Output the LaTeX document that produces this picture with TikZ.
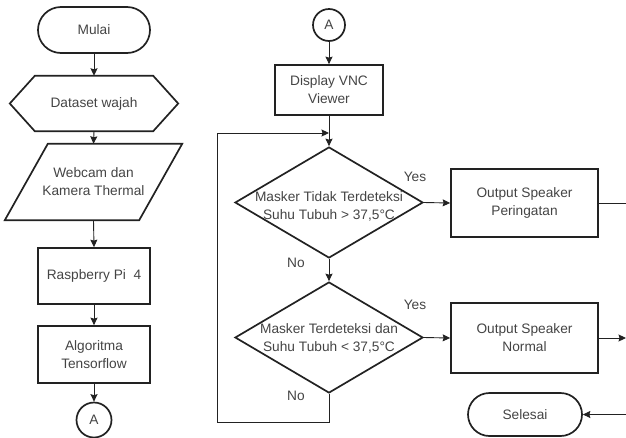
\documentclass[tikz,border=0pt]{standalone}
\usepackage{fontspec}
\setmainfont{Liberation Sans}
\usetikzlibrary{arrows.meta,shapes.geometric,shapes.misc,calc}
\definecolor{txtc}{HTML}{444444}
\definecolor{linec}{HTML}{222222}
\begin{document}
\begin{tikzpicture}[x=1pt,y=-1pt,
  every node/.style={font=\fontsize{13.7}{18}\selectfont, text=txtc, align=center, inner sep=0pt},
  shp/.style={draw=linec, line width=1.7pt},
  box/.style={shp, rectangle},
  term/.style={shp, rounded rectangle},
  conn/.style={draw=linec, line width=0.9pt},
  arr/.style={conn, -{Stealth[length=7.5pt,width=7pt,inset=1pt]}},
  circ/.style={shp, circle},
  ghost/.style={rectangle},
  dia/.style={shp, diamond, minimum width=188pt, minimum height=111pt}]
\useasboundingbox (0,0) rectangle (626,437);
% left column
\node[term, minimum width=112pt, minimum height=46pt] (m) at (94,30) {Mulai};
\node[ghost, minimum width=118pt, minimum height=55pt] (hex) at (94,103.5) {Dataset wajah};
\draw[shp] (hex.north west) -- (hex.north east) -- ([xshift=25pt]hex.east) -- (hex.south east) -- (hex.south west) -- ([xshift=-25pt]hex.west) -- cycle;
\node[ghost, minimum width=134pt, minimum height=76pt] (para) at (93.5,182) {Webcam dan\\Kamera Thermal};
\draw[shp] ([xshift=21.5pt]para.north west) -- ([xshift=21.5pt]para.north east) -- ([xshift=-21.5pt]para.south east) -- ([xshift=-21.5pt]para.south west) -- cycle;
\node[box, minimum width=112pt, minimum height=56pt] (rasp) at (94,276) {Raspberry Pi\ \ 4};
\node[box, minimum width=112pt, minimum height=57pt] (algo) at (94,354.5) {Algoritma\\Tensorflow};
\node[circ, minimum size=35pt] (a1) at (94,420) {A};
\draw[arr] (m.south) -- (hex.north);
\draw[arr] (hex.south) -- (para.north);
\draw[arr] (para.south) -- (rasp.north);
\draw[arr] (rasp.south) -- (algo.north);
\draw[arr] (algo.south) -- (a1.north);
% right column
\node[circ, minimum size=32pt] (a2) at (329,25) {A};
\node[box, minimum width=108pt, minimum height=50pt] (disp) at (329,90) {Display VNC\\Viewer};
\node[dia] (d1) at (329,202.5) {};
\node (d1t) at (329,206) {Masker Tidak Terdeteksi\\Suhu Tubuh > 37,5°C};
\node[dia] (d2) at (329,337.5) {};
\node (d2t) at (329,338) {Masker Terdeteksi dan\\Suhu Tubuh < 37,5°C};
\node[box, minimum width=147pt, minimum height=68pt] (o1) at (524.5,203) {Output Speaker\\Peringatan};
\node[box, minimum width=147pt, minimum height=70pt] (o2) at (524.5,338) {Output Speaker\\Normal};
\node[term, minimum width=114pt, minimum height=43pt] (sel) at (525,414.5) {Selesai};
\node (y1) at (415,177) {Yes};
\node (y2) at (415,305) {Yes};
\node (n1) at (296,263) {No};
\node (n2) at (296,396) {No};
\coordinate (lb) at (217,422);
\coordinate (lt) at (217,133);
\coordinate (jn) at (329,133);
\coordinate (r1) at (626,203);
\coordinate (r2) at (626,338);
\coordinate (r3) at (626,414.5);
\draw[arr] (a2.south) -- (disp.north);
\draw[arr] (disp.south) -- (d1.north);
\draw[arr] (d1.south) -- (d2.north);
\draw[arr] (d1.east) -- (o1.west);
\draw[arr] (d2.east) -- (o2.west);
\draw[arr] (d2.south) -- (d2.south |- lb) -- (lb) -- (lt) -- (jn);
\draw[conn] (o1.east) -- (r1);
\draw[arr] (o2.east) -- (r2);
\draw[arr] (r3) -- (sel.east);
\end{tikzpicture}
\end{document}
